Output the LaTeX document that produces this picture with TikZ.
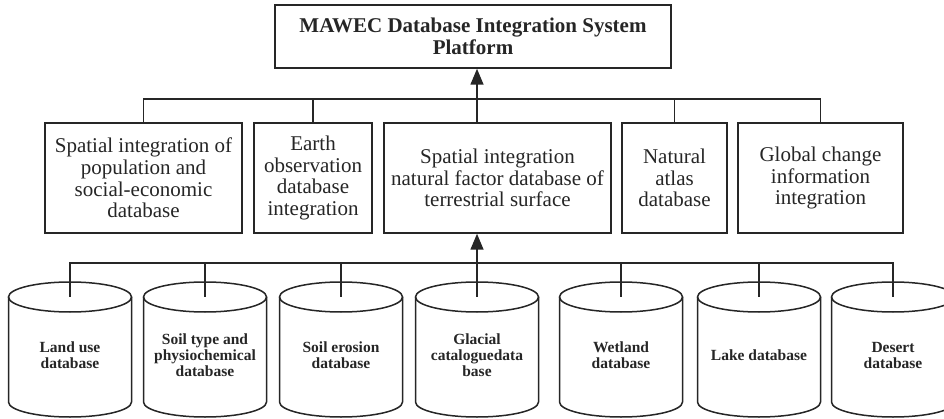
\documentclass[tikz,border=0pt]{standalone}
\usepackage{fontspec}
\setmainfont{Liberation Serif}
\usetikzlibrary{arrows.meta}

\tikzset{
  wire/.style={line width=1.5pt, draw=black!85},
  uparrow/.style={wire, -{Triangle[width=13pt,length=16pt]}},
  panel/.style={wire, rectangle, inner sep=0pt, align=center, text=black!85,
    font=\fontsize{21}{21.7}\selectfont},
  headpanel/.style={panel, font=\bfseries\fontsize{21}{22}\selectfont},
  cyltext/.style={inner sep=0pt, align=center, text=black!85,
    font=\bfseries\fontsize{15.5}{16}\selectfont},
}

% database drum: name, centre x, label
\newcommand\dbdrum[3]{%
  \coordinate (#1t) at (#2,297);
  \node[cyltext] (#1) at (#2,355) {#3};
  \draw[wire] (#1t) ellipse[x radius=61.5pt, y radius=15pt];
  \draw[wire] (#2-61.5,297) -- (#2-61.5,402)
    arc[start angle=180, end angle=360, x radius=61.5pt, y radius=15pt]
    -- (#2+61.5,297);
}

\begin{document}
\begin{tikzpicture}[x=1pt, y=-1pt]
\useasboundingbox (0,0) rectangle (944,419);
\clip (0,0) rectangle (944,419);
\fill[white] (0,0) rectangle (944,419);

% platform
\node[headpanel, minimum width=396pt, minimum height=63pt] (top) at (473,36.5)
  {MAWEC Database Integration System\\Platform};

% integration level
\node[panel, minimum width=197pt, minimum height=110pt] (b1) at (143.5,178)
  {Spatial integration of\\population and\\social-economic\\database};
\node[panel, minimum width=118pt, minimum height=110pt] (b2) at (313,178)
  {Earth\\observation\\database\\integration};
\node[panel, minimum width=227pt, minimum height=110pt] (b3) at (497.5,178)
  {Spatial integration\\natural factor database of\\terrestrial surface};
\node[panel, minimum width=105pt, minimum height=110pt] (b4) at (674.5,178)
  {Natural\\atlas\\database};
\node[panel, minimum width=165pt, minimum height=110pt] (b5) at (820.5,178)
  {Global change\\information\\integration};

% upper bus
\coordinate (ubus) at (477,99);
\draw[wire] (b1.north) |- (b5.north |- ubus) -- (b5.north);
\draw[wire] (b2.north) -- (b2.north |- ubus);
\draw[wire] (b4.north) -- (b4.north |- ubus);
\draw[uparrow] (b3.north -| ubus) -- (top.south -| ubus);

% databases
\dbdrum{c1}{70}{Land use\\database}
\dbdrum{c2}{205}{Soil type and\\physiochemical\\database}
\dbdrum{c3}{341}{Soil erosion\\database}
\dbdrum{c4}{477}{Glacial\\cataloguedata\\base}
\dbdrum{c5}{621}{Wetland\\database}
\dbdrum{c6}{759}{Lake database}
\dbdrum{c7}{893}{Desert\\database}

% lower bus
\coordinate (lbus) at (477,263);
\draw[wire] (c1t) |- (c7t |- lbus) -- (c7t);
\foreach \c in {c2,c3,c4,c5,c6} \draw[wire] (\c t) -- (\c t |- lbus);
\draw[uparrow] (lbus) -- (b3.south -| lbus);
\end{tikzpicture}
\end{document}
